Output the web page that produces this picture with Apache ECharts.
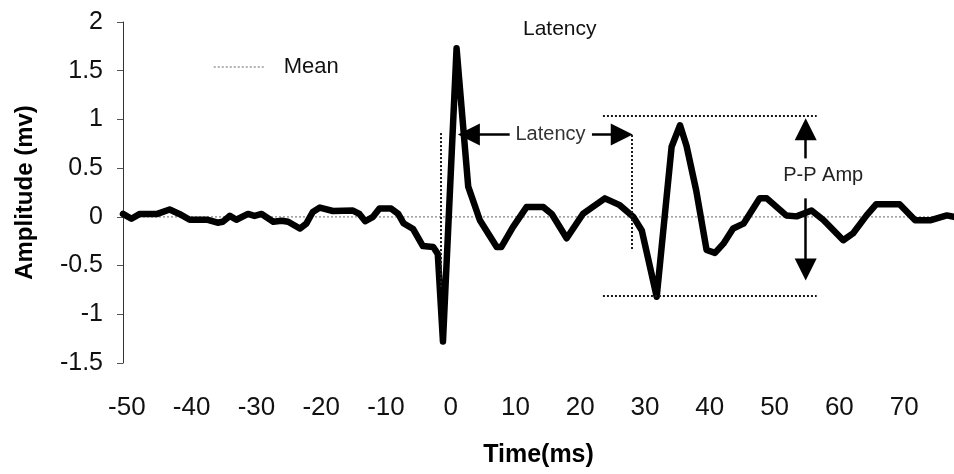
<!DOCTYPE html>
<html>
<head>
<meta charset="utf-8">
<script src="https://cdn.jsdelivr.net/npm/echarts@6/dist/echarts.min.js"></script>
<style>
  html, body { margin: 0; padding: 0; background: #fff; }
  #chart { width: 954px; height: 474px; }
</style>
</head>
<body>
<div id="chart"></div>
<script>
// Averaged evoked response: time (ms) and amplitude (mV)
const timeMs = [-50.6,-49.3,-48.0,-45.3,-43.4,-41.9,-40.3,-37.5,-36.0,-35.2,-34.1,-33.1,-31.3,-30.3,-29.2,-27.4,-26.1,-25.1,-23.3,-22.3,-21.3,-20.2,-18.2,-15.1,-14.1,-13.2,-12.0,-11.0,-9.2,-8.1,-7.3,-5.8,-4.3,-2.7,-2.0,-1.2,0.9,2.7,4.5,7.1,7.8,9.6,11.7,14.3,15.6,17.9,20.4,23.8,26.1,28.2,29.5,31.8,34.1,35.4,36.4,37.9,39.5,40.8,42.1,43.6,45.2,47.7,48.8,51.8,53.4,55.7,57.5,60.6,62.1,64.2,65.7,69.3,71.7,74.0,76.6,77.7];
const amplitude = [0.03,-0.02,0.03,0.03,0.075,0.03,-0.03,-0.03,-0.06,-0.05,0.01,-0.03,0.03,0.01,0.03,-0.05,-0.04,-0.05,-0.12,-0.07,0.05,0.095,0.06,0.065,0.03,-0.045,0,0.085,0.085,0.03,-0.065,-0.125,-0.30,-0.31,-0.38,-1.28,1.73,0.31,-0.035,-0.31,-0.31,-0.105,0.10,0.10,0.03,-0.22,0.03,0.19,0.12,0,-0.14,-0.82,0.72,0.94,0.73,0.27,-0.34,-0.37,-0.275,-0.12,-0.07,0.19,0.19,0.015,0.005,0.065,-0.03,-0.24,-0.17,0.015,0.13,0.13,-0.035,-0.035,0.015,0];

// Axis ranges
const timeRange = [-50.6, 77.7];
const ampRange = [-1.5, 2];
const ampStep = 0.5;

// Mean (baseline) level
const meanLevel = 0;

// Latency markers: stimulus onset and response onset (ms), with vertical extents
const latencyMarks = [-1.5, 28.0];
const latencyMarkTops = [0.86, 0.84];
const latencyMarkBottoms = [-0.72, -0.34];
const latencyArrowLevel = 0.845;

// Peak-to-peak amplitude levels and their horizontal extent
const ppLevels = [1.04, -0.81];
const ppSpan = [23.5, 56.5];
const ppArrowTime = 54.8;

const FONT = "'Liberation Sans', Arial, Helvetica, sans-serif";

const seriesData = timeMs.map((t, i) => [t, amplitude[i]]);

const dotted = { color: '#1a1a1a', width: 2, type: [2, 2] };
const arrowLine = { color: '#000', width: 2.5, type: 'solid' };

function seg(a, b, style, endSymbol) {
  return [
    { coord: a, symbol: 'none', lineStyle: style },
    { coord: b, symbol: endSymbol || 'none', symbolSize: 22 }
  ];
}

const chart = echarts.init(document.getElementById('chart'), null, { renderer: 'canvas' });

const option = {
  backgroundColor: '#fff',
  animation: false,
  title: {
    text: 'Latency',
    left: 518,
    top: 14,
    textStyle: { fontFamily: FONT, fontSize: 21, fontWeight: 'normal', color: '#111' }
  },
  legend: {
    data: ['Mean'],
    left: 208,
    top: 51,
    itemWidth: 52,
    itemHeight: 14,
    selectedMode: false,
    itemStyle: { opacity: 0 },
    lineStyle: { color: '#9a9a9a', width: 1.5, type: [2, 2] },
    textStyle: { fontFamily: FONT, fontSize: 22, color: '#111', padding: [0, 0, 0, 13] }
  },
  grid: { left: 123, right: 0, top: 22, bottom: 111, containLabel: false },
  xAxis: {
    type: 'value',
    min: timeRange[0],
    max: timeRange[1],
    splitNumber: 12,
    name: 'Time(ms)',
    nameLocation: 'middle',
    nameGap: 80,
    nameTextStyle: { fontFamily: FONT, fontSize: 25, fontWeight: 'bold', color: '#000' },
    axisLine: { show: false },
    axisTick: { show: false },
    splitLine: { show: false },
    axisLabel: {
      margin: 32,
      fontFamily: FONT,
      fontSize: 26,
      color: '#111',
      showMinLabel: false,
      showMaxLabel: false,
      formatter: v => (Math.abs(v % 10) < 1e-6 ? String(Math.round(v)) : '')
    }
  },
  yAxis: {
    type: 'value',
    min: ampRange[0],
    max: ampRange[1],
    interval: ampStep,
    name: 'Amplitude (mv)',
    nameLocation: 'middle',
    nameGap: 86,
    nameTextStyle: { fontFamily: FONT, fontSize: 24, fontWeight: 'bold', color: '#000' },
    axisLine: { show: true, onZero: false, lineStyle: { color: '#333', width: 1 } },
    axisTick: { show: true, length: 6, lineStyle: { color: '#555', width: 1 } },
    splitLine: { show: false },
    axisLabel: { margin: 20, fontFamily: FONT, fontSize: 25, color: '#111' }
  },
  series: [
    {
      name: 'Mean',
      type: 'line',
      data: [[timeRange[0], meanLevel], [timeRange[1], meanLevel]],
      symbol: 'none',
      silent: true,
      z: 1,
      itemStyle: { color: '#9a9a9a' },
      lineStyle: { color: '#9a9a9a', width: 1.5, type: [2, 2] },
      markLine: {
        silent: true,
        animation: false,
        symbol: ['none', 'none'],
        label: { show: false },
        emphasis: { disabled: true },
        lineStyle: dotted,
        data: [
          // latency onset markers
          seg([latencyMarks[0], latencyMarkTops[0]], [latencyMarks[0], latencyMarkBottoms[0]], dotted),
          seg([latencyMarks[1], latencyMarkTops[1]], [latencyMarks[1], latencyMarkBottoms[1]], dotted),
          // peak-to-peak levels
          seg([ppSpan[0], ppLevels[0]], [ppSpan[1], ppLevels[0]], dotted),
          seg([ppSpan[0], ppLevels[1]], [ppSpan[1], ppLevels[1]], dotted),
          // latency arrows
          seg([9.1, latencyArrowLevel], [2.8, latencyArrowLevel], arrowLine, 'triangle'),
          seg([21.8, latencyArrowLevel], [26.4, latencyArrowLevel], arrowLine, 'triangle'),
          // peak-to-peak arrows
          seg([ppArrowTime, 0.60], [ppArrowTime, 0.90], arrowLine, 'triangle'),
          seg([ppArrowTime, 0.19], [ppArrowTime, -0.54], arrowLine, 'triangle')
        ]
      }
    },
    {
      name: 'Response',
      type: 'line',
      data: seriesData,
      symbol: 'none',
      silent: true,
      z: 3,
      lineStyle: { color: '#000', width: 6.5, join: 'round', cap: 'round' },
      itemStyle: { color: '#000' }
    }
  ]
};

chart.setOption(option);

// Text annotations placed in data coordinates
const latPos = chart.convertToPixel({ gridIndex: 0 }, [15.4, latencyArrowLevel]);
const ppPos = chart.convertToPixel({ gridIndex: 0 }, [57.5, 0.426]);
chart.setOption({
  graphic: [
    {
      type: 'text', x: latPos[0], y: latPos[1], silent: true,
      style: { text: 'Latency', fill: '#333', font: '20px ' + FONT, textAlign: 'center', textVerticalAlign: 'middle' }
    },
    {
      type: 'text', x: ppPos[0], y: ppPos[1], silent: true,
      style: { text: 'P-P Amp', fill: '#222', font: '20px ' + FONT, textAlign: 'center', textVerticalAlign: 'middle' }
    }
  ]
});
</script>
</body>
</html>
